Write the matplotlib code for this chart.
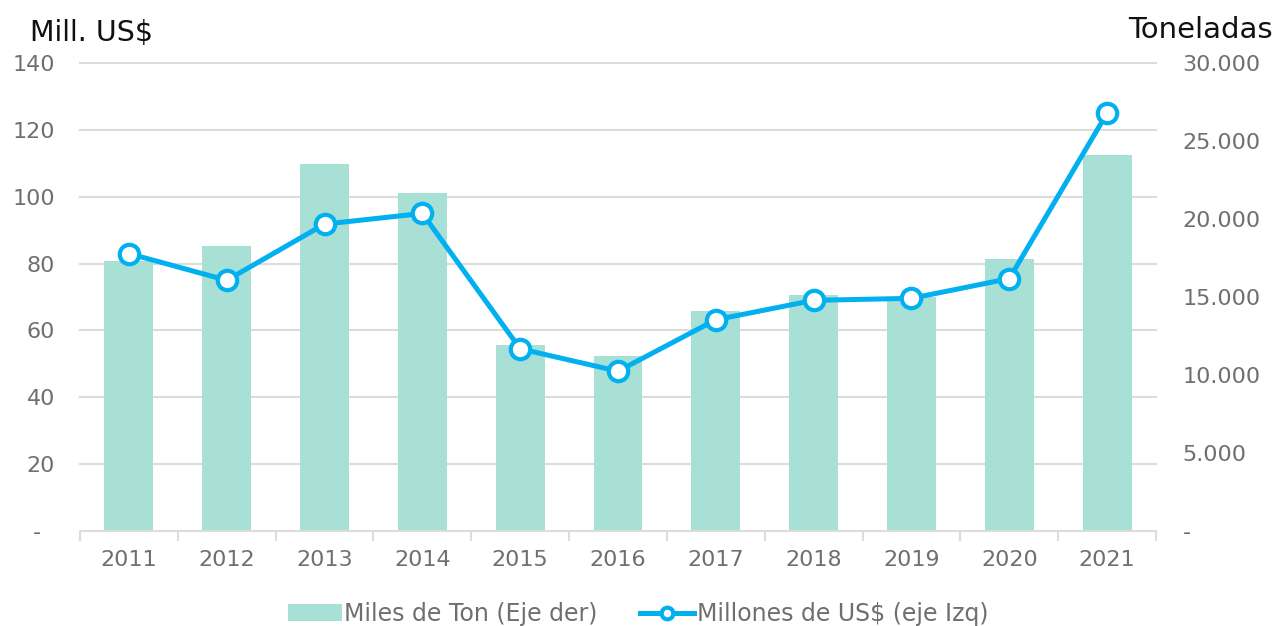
import matplotlib
matplotlib.use("Agg")
import matplotlib.pyplot as plt
from matplotlib.ticker import FuncFormatter, FixedLocator

years = ["2011", "2012", "2013", "2014", "2015", "2016", "2017", "2018", "2019", "2020", "2021"]
toneladas = [17300, 18250, 23550, 21650, 11900, 11200, 14100, 15100, 15000, 17450, 24100]
millones_usd = [83.0, 75.0, 91.8, 95.0, 54.5, 47.8, 63.2, 69.0, 69.6, 75.5, 125.0]

bar_color = "#a8e0d6"
line_color = "#00b0f0"
tick_color = "#6f6f6f"
grid_color = "#dcdcdc"

plt.rcParams['font.family'] = ['DejaVu Sans']

fig = plt.figure(figsize=(12.76, 6.26), dpi=100)
ax = fig.add_axes([80/1276, 1-531/626, (1156-80)/1276, (531-63)/626])
ax2 = ax.twinx()

x = list(range(len(years)))

ax2.bar(x, toneladas, width=0.5, color=bar_color, zorder=1, label="Miles de Ton (Eje der)")
ax2.set_ylim(0, 30000)
ax2.yaxis.set_major_locator(FixedLocator([0, 5000, 10000, 15000, 20000, 25000, 30000]))
ax2.yaxis.set_major_formatter(FuncFormatter(lambda v, p: "-" if v == 0 else f"{int(v):,}".replace(",", ".")))

ax.set_ylim(0, 140)
ax.set_xlim(-0.5, len(years) - 0.5)
ax.yaxis.set_major_locator(FixedLocator([0, 20, 40, 60, 80, 100, 120, 140]))
ax.yaxis.set_major_formatter(FuncFormatter(lambda v, p: "-  " if v == 0 else f"{int(v)}"))

ax.set_zorder(ax2.get_zorder() + 1)
ax.patch.set_visible(False)

for yv in [20, 40, 60, 80, 100, 120, 140]:
    ax2.axhline(yv / 140 * 30000, color=grid_color, lw=1.5, zorder=0, clip_on=False)

line, = ax.plot(x, millones_usd, color=line_color, lw=3.6, marker="o", markersize=14,
                markerfacecolor="white", markeredgecolor=line_color, markeredgewidth=3,
                zorder=3, label="Millones de US$ (eje Izq)")

for a in (ax, ax2):
    for s in a.spines.values():
        s.set_visible(False)
ax.spines['bottom'].set_visible(True)
ax.spines['bottom'].set_color(grid_color)
ax.spines['bottom'].set_linewidth(1.5)

ax.set_xticks(x)
ax.set_xticklabels(years)
ax.set_xticks([i - 0.5 for i in range(len(years) + 1)], minor=True)
ax.tick_params(axis='x', which='major', length=0, pad=14, labelsize=16, labelcolor=tick_color)
ax.tick_params(axis='x', which='minor', length=7, width=1.5, color=grid_color)
ax.tick_params(axis='y', length=0, pad=18, labelsize=16, labelcolor=tick_color)
ax2.tick_params(axis='y', length=0, pad=19, labelsize=16, labelcolor=tick_color)
ax2.tick_params(axis='x', length=0)

fig.text(30/1276, 1-33/626, "Mill. US$", fontsize=20.5, color="#111111", ha="left", va="center")
fig.text(1273/1276, 1-30/626, "Toneladas", fontsize=21, color="#111111", ha="right", va="center")

handles = [ax2.patches[0], line]
labels = ["Miles de Ton (Eje der)", "Millones de US$ (eje Izq)"]
fig.legend(handles, labels, loc="center", bbox_to_anchor=(638/1276, 1-614/626), ncol=2,
           frameon=False, fontsize=17, labelcolor=tick_color, handlelength=2.3,
           handletextpad=0.1, columnspacing=1.8, markerscale=0.6)

fig.savefig("out.png", dpi=100)
